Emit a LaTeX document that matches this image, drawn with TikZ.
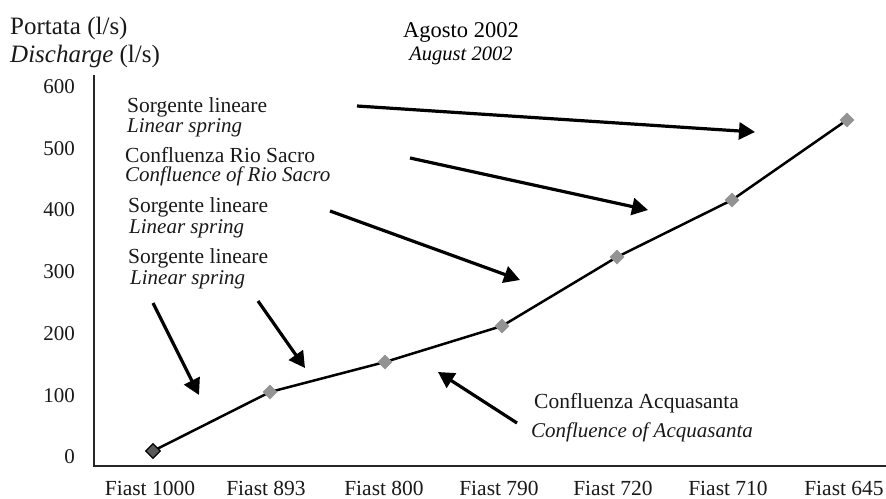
\documentclass[tikz,border=0pt]{standalone}
\usepackage{fontspec}
\setmainfont{Liberation Serif}
\usetikzlibrary{arrows.meta,shapes.geometric}
\begin{document}
\begin{tikzpicture}[x=1pt,y=-1pt,
  lbl/.style={inner sep=0pt, anchor=base west, text=black!90, font=\fontsize{21.5}{24}\selectfont},
  ilbl/.style={lbl, font=\fontsize{21}{24}\selectfont\itshape},
  ticklbl/.style={inner sep=0pt, anchor=base east, text=black!90, font=\fontsize{21}{24}\selectfont},
  xlbl/.style={inner sep=0pt, anchor=base, text=black!90, font=\fontsize{21.5}{24}\selectfont},
  ptmark/.style={diamond, fill=gray!85, inner sep=0pt, minimum size=15pt},
  arr/.style={line width=3.2pt, -{Triangle[length=16pt,width=17pt]}},
  axisline/.style={line width=2.2pt, draw=black!85},
  curveline/.style={line width=2.5pt}
]
\useasboundingbox[fill=white] (0,0) rectangle (886,498);

% axes
\coordinate (ytop) at (94,75);
\coordinate (orig) at (94,466);
\coordinate (xend) at (886,466);
\draw[axisline] (ytop) -- (orig) -- (xend);

% titles
\node[lbl, font=\fontsize{25}{28}\selectfont] (t1) at (10,34) {Portata (l/s)};
\node[lbl, font=\fontsize{25}{28}\selectfont] (t2) at (10,62) {\textit{Discharge} (l/s)};
\node[inner sep=0pt, anchor=base, font=\fontsize{22.5}{26}\selectfont] (m1) at (461,37) {Agosto 2002};
\node[inner sep=0pt, anchor=base, font=\fontsize{20.5}{24}\selectfont\itshape] (m2) at (461,60) {August 2002};

% y ticks
\node[ticklbl] (y0) at (75,463) {0};
\node[ticklbl] (y1) at (75,402) {100};
\node[ticklbl] (y2) at (75,340) {200};
\node[ticklbl] (y3) at (75,278) {300};
\node[ticklbl] (y4) at (75,216) {400};
\node[ticklbl] (y5) at (75,155) {500};
\node[ticklbl] (y6) at (75,93) {600};

% x labels
\node[xlbl] (x1) at (150,495) {Fiast 1000};
\node[xlbl] (x2) at (266,495) {Fiast 893};
\node[xlbl] (x3) at (384,495) {Fiast 800};
\node[xlbl] (x4) at (499,495) {Fiast 790};
\node[xlbl] (x5) at (613,495) {Fiast 720};
\node[xlbl] (x6) at (728,495) {Fiast 710};
\node[xlbl] (x7) at (844,495) {Fiast 645};

% data
\coordinate (c1) at (153,451);
\coordinate (c2) at (270,392);
\coordinate (c3) at (385,362);
\coordinate (c4) at (502,326);
\coordinate (c5) at (617,257);
\coordinate (c6) at (732,200);
\coordinate (c7) at (847,120);
\draw[curveline] (c1) -- (c2) -- (c3) -- (c4) -- (c5) -- (c6) -- (c7);
\node[ptmark, fill=gray!70!black, draw=black, line width=1.2pt, minimum size=15pt] (p1) at (c1) {};
\node[ptmark] (p2) at (c2) {};
\node[ptmark] (p3) at (c3) {};
\node[ptmark] (p4) at (c4) {};
\node[ptmark] (p5) at (c5) {};
\node[ptmark] (p6) at (c6) {};
\node[ptmark] (p7) at (c7) {};

% labels
\node[lbl] (s1) at (127,112) {Sorgente lineare};
\node[ilbl] (s1e) at (127,132) {Linear spring};
\node[lbl] (r1) at (125,162) {Confluenza Rio Sacro};
\node[ilbl] (r1e) at (125,181) {Confluence of Rio Sacro};
\node[lbl] (s2) at (128,212) {Sorgente lineare};
\node[ilbl] (s2e) at (129,233) {Linear spring};
\node[lbl] (s3) at (128,263) {Sorgente lineare};
\node[ilbl] (s3e) at (130,284) {Linear spring};
\node[lbl] (q1) at (534,408) {Confluenza Acquasanta};
\node[ilbl] (q1e) at (531,437) {Confluence of Acquasanta};

% arrows
\coordinate (a1s) at (357,106); \coordinate (a1e) at (755,132);
\coordinate (a2s) at (410,158); \coordinate (a2e) at (648,210);
\coordinate (a3s) at (330,211); \coordinate (a3e) at (520,280);
\coordinate (a4s) at (153,303); \coordinate (a4e) at (199,395);
\coordinate (a5s) at (258,301); \coordinate (a5e) at (305,368);
\coordinate (a6s) at (517,423); \coordinate (a6e) at (438,372);
\draw[arr] (a1s) -- (a1e);
\draw[arr] (a2s) -- (a2e);
\draw[arr] (a3s) -- (a3e);
\draw[arr] (a4s) -- (a4e);
\draw[arr] (a5s) -- (a5e);
\draw[arr] (a6s) -- (a6e);
\end{tikzpicture}
\end{document}
